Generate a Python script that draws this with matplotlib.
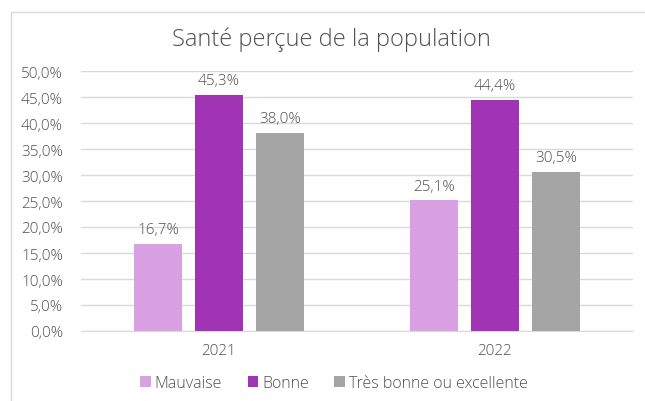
import matplotlib.pyplot as plt
import numpy as np
from matplotlib.patches import Rectangle

years = ["2021", "2022"]
series_names = ["Mauvaise", "Bonne", "Très bonne ou excellente"]
mauvaise = [16.7, 25.1]
bonne = [45.3, 44.4]
tres_bonne = [38.0, 30.5]
colors = ["#D9A0E3", "#A133B5", "#A5A5A5"]

TEXT = "#505050"
plt.rcParams["font.family"] = ["Open Sans", "DejaVu Sans"]
plt.rcParams["font.weight"] = "light"


def fr_pct(v):
    return f"{v:.1f}%".replace(".", ",")


fig = plt.figure(figsize=(6.45, 4.02), dpi=100)
# outer chart frame (cut on right/bottom like the reference)
fig.patches.append(Rectangle((11 / 645, -0.1), 1.2, 1 - 13 / 402 + 0.1,
                             transform=fig.transFigure, fill=False,
                             edgecolor="#D9D9D9", linewidth=1))

ax = fig.add_axes([81 / 645, 1 - 332 / 402, 552 / 645, 260 / 402])

x = np.arange(len(years))
width = 0.174
step = 0.221
for i, (vals, name) in enumerate(zip([mauvaise, bonne, tres_bonne], series_names)):
    pos = x + (i - 1) * step
    bars = ax.bar(pos, vals, width, color=colors[i], label=name, zorder=3)
    for b, v in zip(bars, vals):
        ax.annotate(fr_pct(v), (b.get_x() + b.get_width() / 2, v),
                    xytext=(0, 5), textcoords="offset points",
                    ha="center", va="bottom", fontsize=11, color=TEXT)

ax.set_xlim(-0.5, 1.5)
ax.set_ylim(0, 50)
ax.set_yticks(np.arange(0, 51, 5))
ax.set_yticklabels([fr_pct(v) for v in np.arange(0, 51, 5)])
ax.set_xticks(x)
ax.set_xticklabels(years)
ax.tick_params(axis="both", length=0, labelsize=11, labelcolor=TEXT)
ax.tick_params(axis="y", pad=13)
ax.tick_params(axis="x", pad=9)
ax.grid(axis="y", color="#D9D9D9", linewidth=1, zorder=0)
for s in ["top", "right", "left"]:
    ax.spines[s].set_visible(False)
ax.spines["bottom"].set_color("#D9D9D9")

fig.text(331 / 645, 1 - 40 / 402, "Santé perçue de la population",
         ha="center", va="center", fontsize=17, color=TEXT)

fig.legend(loc="center", bbox_to_anchor=(334 / 645, 1 - 384 / 402), ncol=3,
           frameon=False, fontsize=11.5, labelcolor=TEXT, handlelength=0.65,
           handleheight=0.65, handletextpad=0.25, columnspacing=1.6)

fig.savefig("out.png", dpi=100)
